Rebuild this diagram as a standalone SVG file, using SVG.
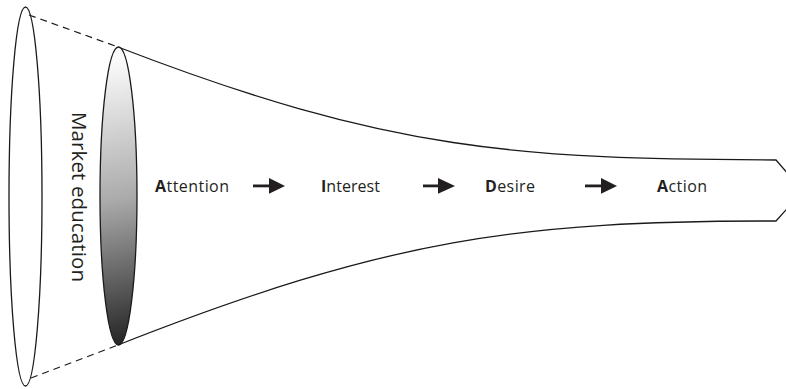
<svg xmlns="http://www.w3.org/2000/svg" width="786" height="389" viewBox="0 0 786 389">
<style>
.ln{fill:none;stroke:#1a1a1a;stroke-width:1.3}
.dash{fill:none;stroke:#1a1a1a;stroke-width:1.2;stroke-dasharray:7,5}
.lbl{font-family:"Open Sans","Noto Sans",sans-serif;font-size:16px;fill:#231f20}
.b{font-weight:bold}
.arr{fill:#231f20}
</style>
<defs>
<linearGradient id="g" gradientUnits="userSpaceOnUse" x1="95" y1="60" x2="150" y2="335">
<stop offset="0" stop-color="#fdfdfd"/>
<stop offset="0.5" stop-color="#ababab"/>
<stop offset="1" stop-color="#282828"/>
</linearGradient>
</defs>
<g id="market-education">
<ellipse cx="25.5" cy="196.5" rx="16.5" ry="189.5" class="ln"/>
<text class="lbl" style="font-size:20.5px" transform="translate(72,112) rotate(90)" textLength="170" lengthAdjust="spacing">Market education</text>
</g>
<g id="funnel">
<path class="ln" d="M118,47 C390,152 520,159 776,160 L803,191 L776,221 C520,221 390,238 118,345"/>
<ellipse cx="118.5" cy="196" rx="18.5" ry="149" fill="url(#g)" stroke="#1a1a1a" stroke-width="1.3"/>
</g>
<g id="connectors">
<line class="dash" x1="29" y1="15" x2="118" y2="47"/>
<line class="dash" x1="31" y1="378" x2="118" y2="345"/>
<g class="arr">
<rect x="253" y="184.5" width="18" height="2.8"/><polygon points="269,178 285,185.9 269,193.8"/>
<rect x="423" y="184.5" width="17" height="2.8"/><polygon points="438,178 455,185.9 438,193.8"/>
<rect x="585" y="184.5" width="18" height="2.8"/><polygon points="601,178 617,185.9 601,193.8"/>
</g>
</g>
<g id="attention"><text class="lbl" x="155" y="192" textLength="74" lengthAdjust="spacing"><tspan class="b">A</tspan>ttention</text></g>
<g id="interest"><text class="lbl" x="321" y="192" textLength="59" lengthAdjust="spacing"><tspan class="b">I</tspan>nterest</text></g>
<g id="desire"><text class="lbl" x="485" y="192" textLength="50" lengthAdjust="spacing"><tspan class="b">D</tspan>esire</text></g>
<g id="action"><text class="lbl" x="657" y="192" textLength="50" lengthAdjust="spacing"><tspan class="b">A</tspan>ction</text></g>
</svg>
